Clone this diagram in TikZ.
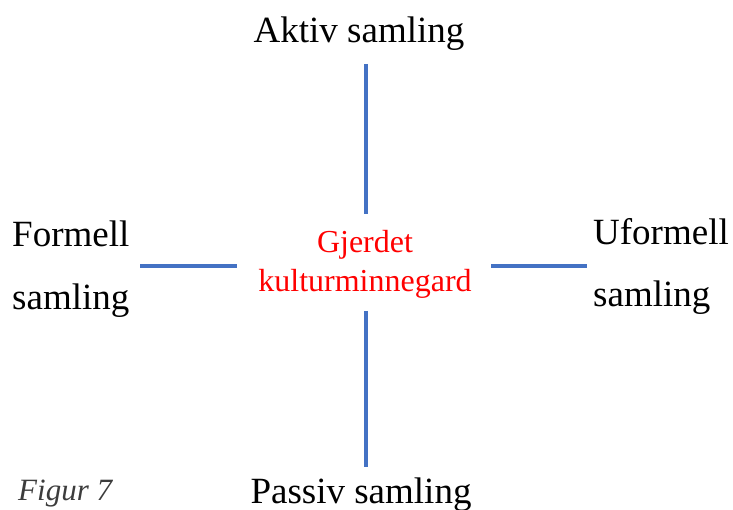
\documentclass[tikz,border=0pt]{standalone}
\usepackage{fontspec}
\setmainfont{Liberation Serif}
\begin{document}
\begin{tikzpicture}[x=1pt,y=-1pt,
  lbl/.style={inner sep=0pt,font=\fontsize{37}{40}\selectfont},
  ctr/.style={inner sep=0pt,text=red,font=\fontsize{32}{36}\selectfont},
  bar/.style={draw={rgb,255:red,68;green,114;blue,196},line width=4pt}]
\useasboundingbox (0,0) rectangle (733,510);
\node[lbl,anchor=base] (aktiv) at (359,43) {Aktiv samling};
\node[lbl,anchor=base] (passiv) at (361,503) {Passiv samling};
\node[lbl,anchor=base west] (formell1) at (12,247) {Formell};
\node[lbl,anchor=base west] (formell2) at (12,309) {samling};
\node[lbl,anchor=base west] (uformell1) at (593,245) {Uformell};
\node[lbl,anchor=base west] (uformell2) at (593,307) {samling};
\node[ctr,anchor=base] (c1) at (365,253) {Gjerdet};
\node[ctr,anchor=base] (c2) at (365,292) {kulturminnegard};
\node[inner sep=0pt,anchor=base west,text={rgb,255:red,60;green,60;blue,60},font=\fontsize{31}{34}\selectfont\itshape] (fig) at (18,500) {Figur 7};
\coordinate (t1) at (366,64); \coordinate (t2) at (366,214);
\coordinate (b1) at (366,311); \coordinate (b2) at (366,467);
\coordinate (l1) at (140,266); \coordinate (l2) at (237,266);
\coordinate (r1) at (491,266); \coordinate (r2) at (587,266);
\draw[bar] (t1) -- (t2);
\draw[bar] (b1) -- (b2);
\draw[bar] (l1) -- (l2);
\draw[bar] (r1) -- (r2);
\end{tikzpicture}
\end{document}
